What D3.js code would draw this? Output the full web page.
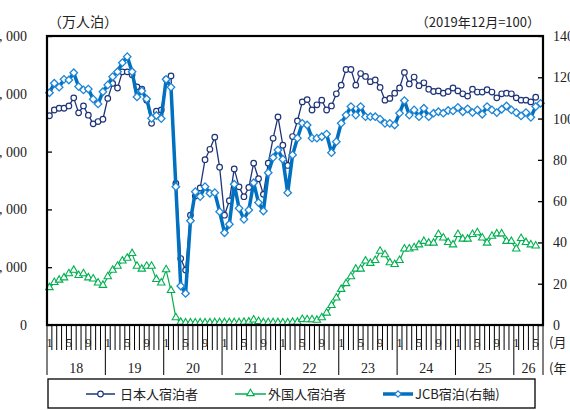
<!DOCTYPE html>
<html>
<head>
<meta charset="utf-8">
<script src="https://cdn.jsdelivr.net/npm/d3@7"></script>
<style>
  body { margin: 0; background: #fff; }
  svg text { fill: #222; }
</style>
</head>
<body>
<svg id="chart" width="570" height="410"></svg>
<script>
// month labels on the axis and year labels below them
var monthLabels = ["1", "5", "9"];
var yearLabels = ["18", "19", "20", "21", "22", "23", "24", "25", "26"];
var leftTicks = [0, 1000, 2000, 3000, 4000, 5000];
var rightTicks = [0, 20, 40, 60, 80, 100, 120, 140];

// 日本人宿泊者 (万人泊), Jan 2018 onward
var japanese = [3620,3720,3750,3750,3790,3930,3670,3790,3630,3480,3520,3560,
  3920,4180,4100,4380,4380,4330,4120,4080,3890,3490,3700,3720,
  4250,4310,2450,1150,950,1900,2230,2370,2860,3040,3250,2730,
  1900,2150,2700,2390,2220,2380,2800,2530,2260,2800,3230,3600,
  3110,2760,3260,3530,3860,3900,3720,3810,3890,3720,3790,4000,
  4150,4420,4420,4150,4350,4300,4210,4240,4110,3890,3920,4010,
  4100,4370,4170,4290,4140,4190,4080,4040,4050,4010,4040,4100,
  4050,4000,3960,4080,4030,4030,4070,4030,3930,4000,4010,4000,
  3930,3890,3890,3860,3940];

// 外国人宿泊者 (万人泊)
var foreign = [640,730,770,810,880,940,850,880,810,790,720,680,
  830,940,1010,1100,1150,1230,1010,960,1010,1010,780,720,
  950,590,120,40,30,30,30,30,30,30,35,35,
  35,35,35,35,40,45,80,55,35,35,35,35,
  30,30,40,40,90,85,85,75,120,200,330,460,
  610,710,830,960,960,1100,1060,1110,1270,1210,1070,1040,
  1110,1310,1310,1330,1380,1440,1410,1410,1560,1500,1420,1380,
  1560,1480,1480,1560,1590,1500,1410,1530,1570,1570,1440,1440,
  1310,1490,1420,1380,1360];

// JCB宿泊 (2019年12月=100, right axis)
var jcb = [112.5,117.1,115.2,119.0,118.7,122.2,115.5,113.9,114.3,109.4,107.1,113.0,
  116.3,120.3,122.7,127.1,130.0,122.7,110.5,113.4,109.5,100.1,101.5,100.0,
  119.0,115.2,67.0,18.9,15.3,50.5,64.6,62.2,67.0,63.8,64.1,54.9,
  44.7,48.8,68.2,56.5,51.2,55.7,68.9,59.3,55.2,73.8,81.1,84.8,
  80.3,64.1,82.4,90.5,97.7,96.9,90.5,90.5,91.2,92.5,83.5,88.8,
  97.7,101.7,105.8,101.7,105.8,100.9,100.9,100.9,99.7,97.7,97.7,96.9,
  102.6,108.7,101.7,104.2,100.9,105.0,100.9,102.6,103.3,102.6,103.9,103.7,
  105.4,103.3,104.7,102.9,104.2,102.1,105.8,104.2,102.9,104.5,106.1,104.2,
  102.9,101.3,102.9,100.6,105.8,107.4];

var nMonths = 102;
var plotL = 47, plotR = 543, plotT = 36, plotB = 325;
var serif = "'Liberation Serif','DejaVu Serif',serif";
var jp = "'Noto Sans CJK JP',sans-serif";

var svg = d3.select("#chart");

var x = d3.scaleLinear().domain([0, nMonths]).range([plotL, plotR]);
var yL = d3.scaleLinear().domain([0, 5000]).range([plotB, plotT]);
var yR = d3.scaleLinear().domain([0, 140]).range([plotB, plotT]);

// left axis, ticks pointing inward
var gl = svg.append("g").attr("transform", "translate(" + plotL + ",0)")
  .call(d3.axisLeft(yL).tickValues(leftTicks).tickSize(-5).tickPadding(20)
    .tickFormat(function(d){ return d == 0 ? "0" : d3.format(",")(d).replace(",", ", "); }));
gl.select(".domain").remove();
gl.selectAll("line").attr("stroke", "#000").attr("stroke-width", 1.3);
gl.selectAll("text").style("font-family", serif).style("font-size", "14px").attr("fill", "#333");

var gr = svg.append("g").attr("transform", "translate(" + plotR + ",0)")
  .call(d3.axisRight(yR).tickValues(rightTicks).tickSize(-5).tickPadding(10));
gr.select(".domain").remove();
gr.selectAll("line").attr("stroke", "#000").attr("stroke-width", 1.3);
gr.selectAll("text").style("font-family", serif).style("font-size", "14px").attr("fill", "#333");

// x axis: month ticks, year separators, labels
var gx = svg.append("g");
gx.selectAll("line").data(d3.range(0, nMonths + 1)).enter().append("line")
  .attr("x1", function(d){ return x(d); }).attr("x2", function(d){ return x(d); })
  .attr("y1", plotB).attr("y2", function(d){ return (d % 12 == 0 || d == nMonths) ? 375 : 350; })
  .attr("stroke", "#000").attr("stroke-width", 1);

var monthPos = [];
for (var i = 0; i < nMonths; i++) {
  var m = i % 12 + 1;
  if (monthLabels.indexOf(String(m)) >= 0) monthPos.push({i: i, t: String(m)});
}
gx.selectAll("text.ml").data(monthPos).enter().append("text").attr("class", "ml")
  .attr("x", function(d){ return x(d.i + 0.5); }).attr("y", 347)
  .attr("text-anchor", "middle").style("font-family", serif).style("font-size", "13px")
  .text(function(d){ return d.t; });

gx.selectAll("text.yl").data(yearLabels).enter().append("text").attr("class", "yl")
  .attr("x", function(d, k){ return x((k * 12 + Math.min(k * 12 + 12, nMonths)) / 2); })
  .attr("y", 373).attr("text-anchor", "middle")
  .style("font-family", serif).style("font-size", "14px").attr("fill", "#333")
  .text(function(d){ return d; });

svg.append("text").attr("x", 549).attr("y", 347).style("font-family", jp).style("font-size", "13px").text("(月");
svg.append("text").attr("x", 549).attr("y", 373).style("font-family", jp).style("font-size", "13px").text("(年");

// titles
svg.append("text").attr("x", 48).attr("y", 27).style("font-family", jp).style("font-size", "14px").attr("fill", "#333").text("（万人泊）");
svg.append("text").attr("x", 540).attr("y", 27).attr("text-anchor", "end").style("font-family", jp).style("font-size", "13px").attr("fill", "#333").text("（2019年12月=100）");

// series
var navy = "#1f3478", green = "#00b050", blue = "#0070c0", blueM = "#1e86d6";
var series = svg.append("g");

function drawLine(data, yScale, color, w) {
  series.append("path").datum(data)
    .attr("fill", "none").attr("stroke", color).attr("stroke-width", w)
    .attr("stroke-linejoin", "round")
    .attr("d", d3.line().x(function(d, i){ return x(i + 0.5); }).y(function(d){ return yScale(d); }));
}

drawLine(foreign, yL, green, 1.2);
series.append("g").selectAll("path").data(foreign).enter().append("path")
  .attr("d", d3.symbol().type(d3.symbolTriangle).size(24))
  .attr("transform", function(d, i){ return "translate(" + x(i + 0.5) + "," + (yL(d) - 0.5) + ")"; })
  .attr("fill", "#fff").attr("stroke", green).attr("stroke-width", 1.1);

drawLine(japanese, yL, navy, 1.3);
series.append("g").selectAll("circle").data(japanese).enter().append("circle")
  .attr("cx", function(d, i){ return x(i + 0.5); }).attr("cy", function(d){ return yL(d); })
  .attr("r", 2.8).attr("fill", "#fff").attr("stroke", navy).attr("stroke-width", 1.2);

drawLine(jcb, yR, blue, 3.5);
series.append("g").selectAll("path").data(jcb).enter().append("path")
  .attr("d", d3.symbol().type(d3.symbolSquare).size(28))
  .attr("transform", function(d, i){ return "translate(" + x(i + 0.5) + "," + yR(d) + ") rotate(45)"; })
  .attr("fill", "#fff").attr("stroke", blueM).attr("stroke-width", 1.3);

// frame
svg.append("rect").attr("x", plotL).attr("y", plotT).attr("width", plotR - plotL).attr("height", plotB - plotT)
  .attr("fill", "none").attr("stroke", "#000").attr("stroke-width", 2.2);

// legend
var lg = svg.append("g");
lg.append("rect").attr("x", 48).attr("y", 379).attr("width", 487).attr("height", 29)
  .attr("fill", "none").attr("stroke", "#000").attr("stroke-width", 1.3);

var ly = 394;
lg.append("line").attr("x1", 86).attr("x2", 115).attr("y1", ly).attr("y2", ly).attr("stroke", navy).attr("stroke-width", 1.5);
lg.append("circle").attr("cx", 100.5).attr("cy", ly).attr("r", 2.8).attr("fill", "#fff").attr("stroke", navy).attr("stroke-width", 1.2);
lg.append("text").attr("x", 120).attr("y", ly + 5).style("font-family", jp).style("font-size", "13px").attr("fill", "#333").text("日本人宿泊者");

lg.append("line").attr("x1", 235).attr("x2", 266).attr("y1", ly).attr("y2", ly).attr("stroke", green).attr("stroke-width", 1.5);
lg.append("path").attr("d", d3.symbol().type(d3.symbolTriangle).size(24))
  .attr("transform", "translate(250.5," + (ly - 0.5) + ")").attr("fill", "#fff").attr("stroke", green).attr("stroke-width", 1.1);
lg.append("text").attr("x", 268).attr("y", ly + 5).style("font-family", jp).style("font-size", "13px").attr("fill", "#333").text("外国人宿泊者");

lg.append("line").attr("x1", 383).attr("x2", 413).attr("y1", ly).attr("y2", ly).attr("stroke", blue).attr("stroke-width", 3.5);
lg.append("path").attr("d", d3.symbol().type(d3.symbolSquare).size(20))
  .attr("transform", "translate(398," + ly + ") rotate(45)").attr("fill", "#fff").attr("stroke", blueM).attr("stroke-width", 1.2);
lg.append("text").attr("x", 415).attr("y", ly + 5).style("font-family", jp).style("font-size", "13px").attr("fill", "#333").text("JCB宿泊(右軸)");
</script>
</body>
</html>
